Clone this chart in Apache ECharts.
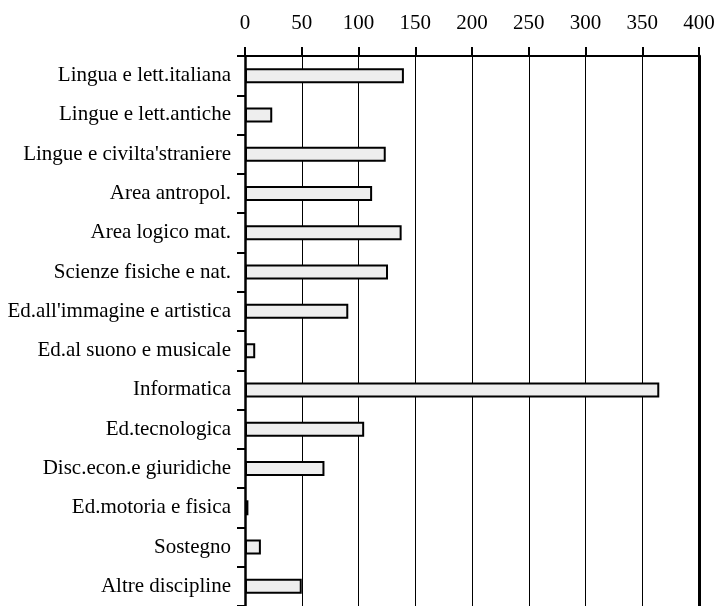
<!DOCTYPE html>
<html>
<head>
<meta charset="utf-8">
<script src="https://cdn.jsdelivr.net/npm/echarts@6/dist/echarts.min.js"></script>
<style>
html,body{margin:0;padding:0;background:#fff;}
#main{width:719px;height:606px;}
</style>
</head>
<body>
<div id="main"></div>
<script>
var categories = [
  "Lingua e lett.italiana",
  "Lingue e lett.antiche",
  "Lingue e civilta'straniere",
  "Area antropol.",
  "Area logico mat.",
  "Scienze fisiche e nat.",
  "Ed.all'immagine e artistica",
  "Ed.al suono e musicale",
  "Informatica",
  "Ed.tecnologica",
  "Disc.econ.e giuridiche",
  "Ed.motoria e fisica",
  "Sostegno",
  "Altre discipline"
];
var values = [140, 24, 124, 112, 138, 126, 91, 9, 365, 105, 70, 3, 14, 50];
var xTicks = { min: 0, max: 400, interval: 50 };

var FONT = "'Liberation Serif', 'Times New Roman', serif";
var chart = echarts.init(document.getElementById('main'), null, { renderer: 'canvas' });
chart.setOption({
  animation: false,
  backgroundColor: '#ffffff',
  grid: { left: 245, right: 20, top: 56, bottom: 0, containLabel: false },
  xAxis: {
    type: 'value',
    position: 'top',
    min: xTicks.min, max: xTicks.max, interval: xTicks.interval,
    axisLine: { show: true, lineStyle: { color: '#000', width: 2 } },
    axisTick: { show: true, inside: false, length: 9, lineStyle: { color: '#000', width: 2 } },
    axisLabel: { color: '#000', fontFamily: FONT, fontSize: 21, margin: 22 },
    splitLine: { show: true, lineStyle: { color: '#000', width: 1 } }
  },
  yAxis: [{
    type: 'category',
    data: categories,
    inverse: true,
    axisLine: { show: true, lineStyle: { color: '#000', width: 2.5 } },
    axisTick: { show: true, length: 8, lineStyle: { color: '#000', width: 2 } },
    axisLabel: { color: '#000', fontFamily: FONT, fontSize: 21, margin: 14 },
    splitLine: { show: false }
  }, {
    type: 'category',
    data: categories,
    inverse: true,
    position: 'right',
    axisLine: { show: true, lineStyle: { color: '#000', width: 3 } },
    axisTick: { show: false },
    axisLabel: { show: false },
    splitLine: { show: false }
  }],
  series: [{
    type: 'bar',
    data: values,
    barWidth: 15,
    itemStyle: { color: '#eeeeee', borderColor: '#000', borderWidth: 2 }
  }]
});
</script>
</body>
</html>
